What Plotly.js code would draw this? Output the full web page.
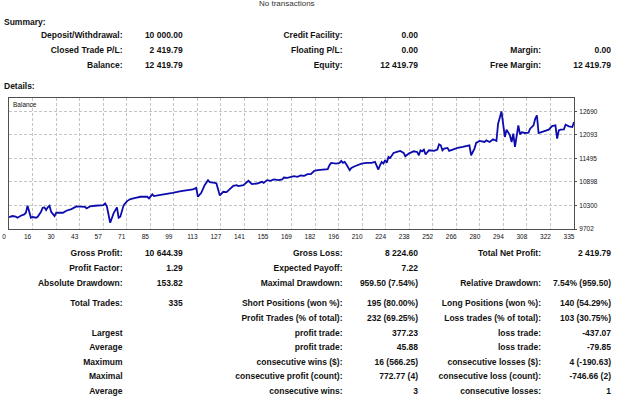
<!DOCTYPE html>
<html>
<head>
<meta charset="utf-8">
<script src="https://cdn.plot.ly/plotly-3.0.1.min.js"></script>
<style>
  html, body { margin: 0; padding: 0; background: #fff; }
  #page { position: relative; width: 625px; height: 402px; overflow: hidden; background: #fff;
          font-family: "Liberation Sans", Arial, sans-serif; font-size: 8.5px; font-weight: bold; color: #111; }
  .t { position: absolute; white-space: nowrap; line-height: 10px; }
  #chart { position: absolute; left: 0; top: 90px; width: 625px; height: 160px; }
</style>
</head>
<body>
<div id="page">
  <div id="chart"></div>
</div>
<script>
// ---------------- DATA ----------------
const tradeIndex = [0,2,4,5,7,9,10,11,13,14,16,17,19,20,21,22,23,24,25,27,28,30,32,34,37,40,43,45,46,48,51,54,56,57,58,60,61,62,64,65,66,68,70,72,75,78,82,83,85,86,89,93,97,102,106,109,111,112,114,116,118,119,122,123,125,127,129,131,133,135,136,139,142,144,147,150,151,153,155,157,160,162,163,165,169,171,173,175,177,179,181,183,186,189,190,191,194,196,197,198,199,200,202,203,205,207,209,212,215,217,218,219,220,221,222,223,224,225,226,228,230,232,234,235,237,240,242,243,244,245,246,247,249,250,252,254,255,256,257,258,260,261,263,266,269,273,274,276,277,279,282,283,285,287,289,290,292,293,294,295,297,298,299,300,301,302,303,304,306,308,309,311,312,313,314,317,320,322,324,325,326,327,329,330,332,334,335];
const balance = [10000,10031,10014,9989,10039,10073,10115,10293,9989,10006,9989,10014,10141,10242,10251,10183,10251,10293,10141,10031,10115,10124,10115,10166,10208,10276,10276,10267,10225,10276,10293,10293,10310,10352,10284,9862,9972,10099,10251,9989,10014,10310,10411,10462,10495,10521,10521,10479,10580,10538,10563,10588,10622,10664,10689,10706,10748,10521,10622,10816,10943,10892,10875,10858,10555,10647,10639,10732,10799,10816,10791,10816,10926,10841,10858,10900,10875,10943,10926,10960,10943,10960,11010,11002,11044,11027,11061,11052,11095,11095,11179,11196,11213,11221,11322,11382,11365,11382,11432,11382,11407,11348,11196,11255,11297,11322,11365,11382,11382,11407,11322,11213,11322,11407,11365,11449,11382,11533,11508,11635,11660,11685,11635,11550,11618,11677,11660,11576,11702,11677,11719,11593,11702,11702,11685,11719,11854,11829,11702,11745,11762,11685,11719,11762,11787,11829,11576,11745,11888,11939,11913,11955,11913,11981,11939,12378,12690,12378,12040,12226,12082,11913,12124,11787,12040,12335,12107,12158,12141,12150,12251,12335,12504,12588,12141,12183,12226,12318,12335,11998,12209,12226,12234,12352,12310,12293,12419.79];
const xTickLabels = ["0","16","30","43","57","71","85","99","113","127","141","155","169","182","196","210","224","238","252","266","280","294","308","322","335"];
const yTickValues = [9702,10300,10898,11495,12093,12690];
const seriesName = "Balance";

const headerText = "No transactions";
const summaryTitle = "Summary:";
const detailsTitle = "Details:";
const summaryRows = [
  ["Deposit/Withdrawal:", "10 000.00", "Credit Facility:", "0.00", "", ""],
  ["Closed Trade P/L:", "2 419.79", "Floating P/L:", "0.00", "Margin:", "0.00"],
  ["Balance:", "12 419.79", "Equity:", "12 419.79", "Free Margin:", "12 419.79"]
];
const detailRows = [
  ["Gross Profit:", "10 644.39", "Gross Loss:", "8 224.60", "Total Net Profit:", "2 419.79"],
  ["Profit Factor:", "1.29", "Expected Payoff:", "7.22", "", ""],
  ["Absolute Drawdown:", "153.82", "Maximal Drawdown:", "959.50 (7.54%)", "Relative Drawdown:", "7.54% (959.50)"],
  ["Total Trades:", "335", "Short Positions (won %):", "195 (80.00%)", "Long Positions (won %):", "140 (54.29%)"],
  ["", "", "Profit Trades (% of total):", "232 (69.25%)", "Loss trades (% of total):", "103 (30.75%)"],
  ["Largest", "", "profit trade:", "377.23", "loss trade:", "-437.07"],
  ["Average", "", "profit trade:", "45.88", "loss trade:", "-79.85"],
  ["Maximum", "", "consecutive wins ($):", "16 (566.25)", "consecutive losses ($):", "4 (-190.63)"],
  ["Maximal", "", "consecutive profit (count):", "772.77 (4)", "consecutive loss (count):", "-746.66 (2)"],
  ["Average", "", "consecutive wins:", "3", "consecutive losses:", "1"]
];

// ---------------- TEXT LAYOUT ----------------
const page = document.getElementById('page');
const colRight = [122.5, 182.7, 342.5, 418, 541, 611];
const summaryY = [35, 50, 64.5];
const detailY = [252.7, 267.8, 282.6, 303, 318, 332.7, 347.2, 361.8, 376.2, 390.6];
function addText(txt, opts) {
  const d = document.createElement('div');
  d.className = 't';
  d.textContent = txt;
  for (const k in opts) d.style[k] = opts[k];
  page.appendChild(d);
  return d;
}
function addRows(rows, ys) {
  rows.forEach((row, r) => {
    row.forEach((cell, c) => {
      if (!cell) return;
      addText(cell, { right: (625 - colRight[c]) + 'px', top: (ys[r] - 5) + 'px' });
    });
  });
}
addText(headerText, { left: '259px', top: '-1px', fontWeight: 'normal', color: '#333', fontSize: '8px' });
addText(summaryTitle, { left: '4px', top: (21.7 - 5) + 'px' });
addText(detailsTitle, { left: '4px', top: (85.7 - 5) + 'px' });
addRows(summaryRows, summaryY);
addRows(detailRows, detailY);

// ---------------- CHART ----------------
const nDiv = xTickLabels.length - 1;
const lastTrade = tradeIndex[tradeIndex.length - 1];
const xTickVals = xTickLabels.map((_, k) => k * lastTrade / nDiv);
const chartFont = { family: '"Liberation Sans", Arial, sans-serif', size: 6.5, color: '#111' };
const gridStyle = { showgrid: true, gridcolor: '#c4c4c4', gridwidth: 1, griddash: '3px,2px',
  showline: true, mirror: true, linecolor: '#505050', linewidth: 1, zeroline: false };

Plotly.newPlot('chart', [{
  x: tradeIndex, y: balance, name: seriesName, type: 'scatter', mode: 'lines',
  line: { color: '#0c0cae', width: 1.8 }, hoverinfo: 'skip'
}], {
  width: 625, height: 160,
  margin: { l: 9, r: 51, t: 8, b: 21 },
  paper_bgcolor: 'rgba(0,0,0,0)', plot_bgcolor: '#fff',
  showlegend: false,
  xaxis: Object.assign({}, gridStyle, {
    range: [0, lastTrade], tickmode: 'array', tickvals: xTickVals, ticktext: xTickLabels,
    ticks: '', tickfont: chartFont, ticklabelshift: -5, ticklabelstandoff: 1
  }),
  yaxis: Object.assign({}, gridStyle, {
    side: 'right', range: [9702, 13030], tickmode: 'array', tickvals: yTickValues,
    ticktext: yTickValues.map(String), ticks: 'outside', ticklen: 2, tickcolor: '#505050',
    tickfont: chartFont, ticklabelstandoff: 1
  }),
  annotations: [{
    text: seriesName, xref: 'paper', yref: 'paper', x: 0, y: 1, xanchor: 'left', yanchor: 'top',
    xshift: 2, yshift: -1, showarrow: false, font: chartFont
  }]
}, { displayModeBar: false, staticPlot: true });
</script>
</body>
</html>
